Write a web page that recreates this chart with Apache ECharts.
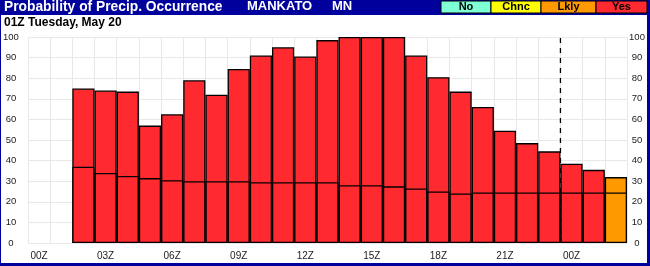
<!DOCTYPE html>
<html>
<head>
<meta charset="utf-8">
<script src="https://cdn.jsdelivr.net/npm/echarts@6/dist/echarts.min.js"></script>
<style>
html,body{margin:0;padding:0;background:#fff;}
#c{width:650px;height:266px;}
</style>
</head>
<body>
<div id="c"></div>
<script>
// Hour categories (27 hourly columns)
var hours = ['00Z','01Z','02Z','03Z','04Z','05Z','06Z','07Z','08Z','09Z','10Z','11Z','12Z','13Z','14Z','15Z','16Z','17Z','18Z','19Z','20Z','21Z','22Z','23Z','00Z','01Z','02Z'];
// Total probability (top of bar)
var totalPop = [null,null,75,74,73.5,57,62.5,79,72,84.5,91,95,90.5,98.5,100,100,100,91,80.5,73.5,66,54.5,48.5,44.5,38.5,35.5,32];
// Lower segment boundary
var lowerPop = [null,null,37,34,32.5,31.5,30.5,30,30,30,29.5,29.5,29.5,29.5,28,28,27.5,26.5,25,24,24.5,24.5,24.5,24.5,24.5,24.5,24.5];
// Index of the column drawn orange (Likely)
var likelyIdx = [26];
var yTicks = [0,10,20,30,40,50,60,70,80,90,100];
var dividerHour = 24; // dashed line at start of this column

var RED = '#FF2A2F', ORANGE = '#FF9900', BLUE = '#00009C';

function colored(arr){
  return arr.map(function(v,i){
    if (v === null) return null;
    return likelyIdx.indexOf(i) >= 0 ? {value:v,itemStyle:{color:ORANGE}} : v;
  });
}

var chart = echarts.init(document.getElementById('c'), null, {renderer:'canvas'});
var font = 'Liberation Sans, Arial, sans-serif';
var opt = {
  animation:false,
  backgroundColor:'#fff',
  grid:{left:27,right:23,top:37,bottom:23,containLabel:false},
  xAxis:[{
    type:'category', data:hours, boundaryGap:true,
    axisLine:{show:false}, axisTick:{show:false},
    axisLabel:{interval:function(i){return i%3===0;}, margin:8, fontSize:10, color:'#222', fontFamily:font},
    splitLine:{show:true, interval:0, lineStyle:{color:'#e8e8e8', width:1}}
  },{
    type:'value', min:0, max:hours.length, show:false
  }],
  yAxis:[{
    type:'value', min:0, max:100, interval:10, position:'left',
    axisLine:{show:false}, axisTick:{show:false},
    axisLabel:{margin:17, align:'center', fontSize:9.5, color:'#222', fontFamily:font},
    splitLine:{show:true, lineStyle:{color:'#e8e8e8', width:1}}
  },{
    type:'value', min:0, max:100, interval:10, position:'right',
    axisLine:{show:false}, axisTick:{show:false},
    axisLabel:{margin:10, align:'center', fontSize:9.5, color:'#222', fontFamily:font},
    splitLine:{show:false}
  }],
  series:[{
    type:'line', xAxisIndex:1, yAxisIndex:0, z:1,
    data:[[dividerHour,0],[dividerHour,100]], symbol:'none',
    lineStyle:{color:'#000', width:1.3, type:[5,5]}
  },{
    type:'bar', xAxisIndex:0, yAxisIndex:0, z:2,
    data:colored(totalPop), barGap:'-100%', barCategoryGap:0,
    itemStyle:{color:RED, borderColor:'#000', borderWidth:1.3}
  },{
    type:'bar', xAxisIndex:0, yAxisIndex:0, z:3,
    data:colored(lowerPop), barGap:'-100%', barCategoryGap:0,
    itemStyle:{color:RED, borderColor:'#000', borderWidth:1.3}
  }],
  graphic:[
    {type:'rect', shape:{x:0,y:0,width:650,height:15}, style:{fill:BLUE}, z:100},
    {type:'rect', shape:{x:0,y:0,width:1,height:266}, style:{fill:BLUE}, z:100},
    {type:'rect', shape:{x:647,y:0,width:3,height:266}, style:{fill:BLUE}, z:100},
    {type:'rect', shape:{x:0,y:263,width:650,height:3}, style:{fill:BLUE}, z:100},
    {type:'text', left:4, top:0, z:101, style:{text:'Probability of Precip. Occurrence', fill:'#fff', font:'bold 13.8px '+font}},
    {type:'text', left:247, top:0, z:101, style:{text:'MANKATO', fill:'#fff', font:'bold 13px '+font}},
    {type:'text', left:332, top:0, z:101, style:{text:'MN', fill:'#fff', font:'bold 13px '+font}},
    {type:'rect', shape:{x:441,y:1,width:50,height:12}, style:{fill:'#7FFFD4', stroke:'#000', lineWidth:1}, z:101},
    {type:'rect', shape:{x:491,y:1,width:50,height:12}, style:{fill:'#FFFF00', stroke:'#000', lineWidth:1}, z:101},
    {type:'rect', shape:{x:541,y:1,width:55,height:12}, style:{fill:ORANGE, stroke:'#000', lineWidth:1}, z:101},
    {type:'rect', shape:{x:596,y:1,width:51,height:12}, style:{fill:RED, stroke:'#000', lineWidth:1}, z:101},
    {type:'text', x:466, y:7, z:102, style:{text:'No', fill:'#000', font:'bold 11px '+font, align:'center', verticalAlign:'middle'}},
    {type:'text', x:516, y:7, z:102, style:{text:'Chnc', fill:'#000', font:'bold 11px '+font, align:'center', verticalAlign:'middle'}},
    {type:'text', x:568.5, y:7, z:102, style:{text:'Lkly', fill:'#000', font:'bold 11px '+font, align:'center', verticalAlign:'middle'}},
    {type:'text', x:621.5, y:7, z:102, style:{text:'Yes', fill:'#000', font:'bold 11px '+font, align:'center', verticalAlign:'middle'}},
    {type:'text', left:4, top:17, z:101, style:{text:'01Z Tuesday, May 20', fill:'#000', font:'bold 12px '+font}}
  ]
};
chart.setOption(opt);
</script>
</body>
</html>
